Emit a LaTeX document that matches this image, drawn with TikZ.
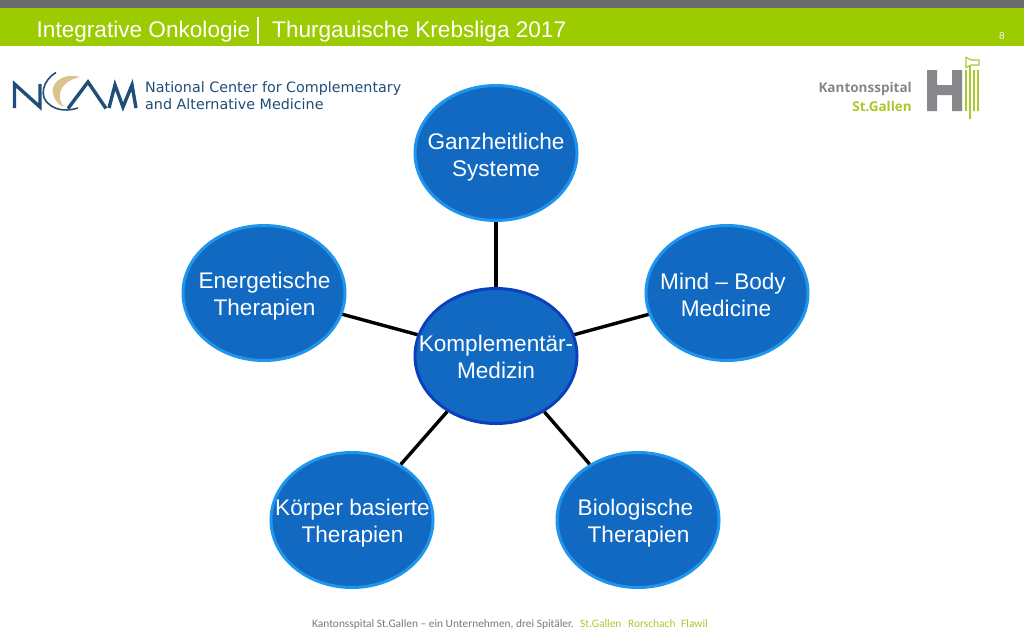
\documentclass[tikz,border=0pt]{standalone}
\usepackage{fontspec}
\setmainfont{Liberation Sans}
\newfontfamily\logofont{DejaVu Sans}
\newfontfamily\ksgfont{Open Sans}
\newfontfamily\footfont{Carlito}
\usetikzlibrary{shapes.geometric}
\definecolor{barGrey}{HTML}{6B6C70}
\definecolor{barGreen}{HTML}{9BCB00}
\definecolor{discFill}{HTML}{1269C2}
\definecolor{discEdge}{HTML}{1E96EE}
\definecolor{hubEdge}{HTML}{0B3FBE}
\definecolor{ncamBlue}{HTML}{1F4E79}
\definecolor{ncamGold}{HTML}{D9C48E}
\definecolor{ksgGrey}{HTML}{85878A}
\definecolor{ksgGreen}{HTML}{A9C92E}
\definecolor{footGrey}{HTML}{77797C}
\tikzset{
  disc/.style={ellipse,draw=discEdge,fill=discFill,line width=3pt,minimum width=162pt,minimum height=135pt,inner sep=0pt,outer sep=1.5pt},
  hub/.style={disc,draw=hubEdge},
  disclabel/.style={text=white,align=center,font=\fontsize{22.6}{27}\selectfont,inner sep=0pt},
  spoke/.style={line width=3.4pt,black},
  ncamline/.style={ncamBlue,line width=3.4pt,line join=miter},
  axeline/.style={ksgGreen,line width=1.5pt},
  titletext/.style={anchor=west,text=white,inner sep=0pt,font=\fontsize{22.6}{27}\selectfont},
  ncamtext/.style={anchor=west,text=ncamBlue,inner sep=0pt,font=\logofont\fontsize{14.3}{17}\selectfont},
  foottext/.style={anchor=base west,inner sep=0pt,font=\footfont\fontsize{11.4}{14}\selectfont}
}
\begin{document}
\begin{tikzpicture}[x=1pt,y=-1pt]
\useasboundingbox (0,0) rectangle (1024,640);
\fill[white] (0,0) rectangle (1024,640);
% header
\fill[barGrey] (0,0) rectangle (1024,7.5);
\fill[barGreen] (0,7.5) rectangle (1024,46);
\node[titletext] (titleA) at (36.5,31.5) {Integrative Onkologie};
\fill[white] (257,17) rectangle (258.5,44);
\node[titletext] (titleB) at (272,31.5) {Thurgauische Krebsliga 2017};
\node[text=white!90!barGreen,inner sep=0pt,font=\fontsize{10}{12}\selectfont] (pageno) at (1002,36.5) {8};
% NCAM logo
\draw[ncamline] (14.5,108) -- (14.5,84) -- (40,107) -- (40,84);
\fill[ncamGold] (80,77) .. controls (62,72) and (50,84) .. (53,94) .. controls (55,101) and (59,105) .. (64,107) .. controls (56,98) and (58,82) .. (80,77) -- cycle;
\draw[ncamBlue,line width=1.6pt] (56,72.5) .. controls (43,80) and (38,97) .. (50,105) .. controls (58,111) and (68,111) .. (78,108);
\draw[ncamline] (68,108.5) -- (88,82) -- (106,108.5);
\draw[ncamline] (109,108) -- (115,85) -- (123,107) -- (132,85) -- (136,108);
\node[ncamtext] (ncamA) at (145,89) {National Center for Complementary};
\node[ncamtext] (ncamB) at (145,104) {and Alternative Medicine};
% Kantonsspital logo
\node[anchor=east,text=ksgGrey,inner sep=0pt,font=\ksgfont\bfseries\fontsize{13.5}{16}\selectfont] (ksgA) at (912,89) {Kantonsspital};
\node[anchor=east,text=ksgGreen,inner sep=0pt,font=\ksgfont\bfseries\fontsize{13.5}{16}\selectfont] (ksgB) at (912,106) {St.Gallen};
\fill[ksgGrey] (927,70) rectangle (937,111) (952,70) rectangle (962,111) (937,85) rectangle (952,95);
\draw[axeline] (966,70) -- (966,111) (970,66) -- (970,119) (974,70) -- (974,111) (978,70) -- (978,111);
\draw[ksgGreen,line width=1.3pt,fill=white] (966,57.5) -- (971,60) -- (979,60) -- (979,65) -- (971,65) -- (966,67.5) -- cycle;
% discs
\node[hub] (hubN) at (496,356) {};
\node[disc] (top) at (496,153) {};
\node[disc] (right) at (727,293) {};
\node[disc] (left) at (264,293) {};
\node[disc] (botL) at (352,520) {};
\node[disc] (botR) at (638,520) {};
\draw[spoke] (hubN) -- (top);
\draw[spoke] (hubN) -- (right);
\draw[spoke] (hubN) -- (left);
\draw[spoke] (hubN) -- (botL);
\draw[spoke] (hubN) -- (botR);
\node[disclabel] (hubT) at (496,357) {Komplementär-\\Medizin};
\node[disclabel] (topT) at (496,157) {Ganzheitliche\\Systeme};
\node[disclabel] (rightT) at (726,294.5) {Mind – Body\kern6pt\\Medicine};
\node[disclabel] (leftT) at (264.5,296.5) {Energetische\\Therapien};
\node[disclabel] (botLT) at (352.5,523.5) {Körper basierte\\Therapien};
\node[disclabel] (botRT) at (638.5,523.5) {Biologische\kern6pt\\Therapien};
% footer
\node[foottext,text=footGrey] (footA) at (312,627) {Kantonsspital St.Gallen – ein Unternehmen, drei Spitäler.};
\node[foottext,text=ksgGreen] (footB) at (580,627) {St.Gallen};
\node[foottext,text=ksgGreen] (footC) at (628,627) {Rorschach};
\node[foottext,text=ksgGreen] (footD) at (681,627) {Flawil};
\end{tikzpicture}
\end{document}
